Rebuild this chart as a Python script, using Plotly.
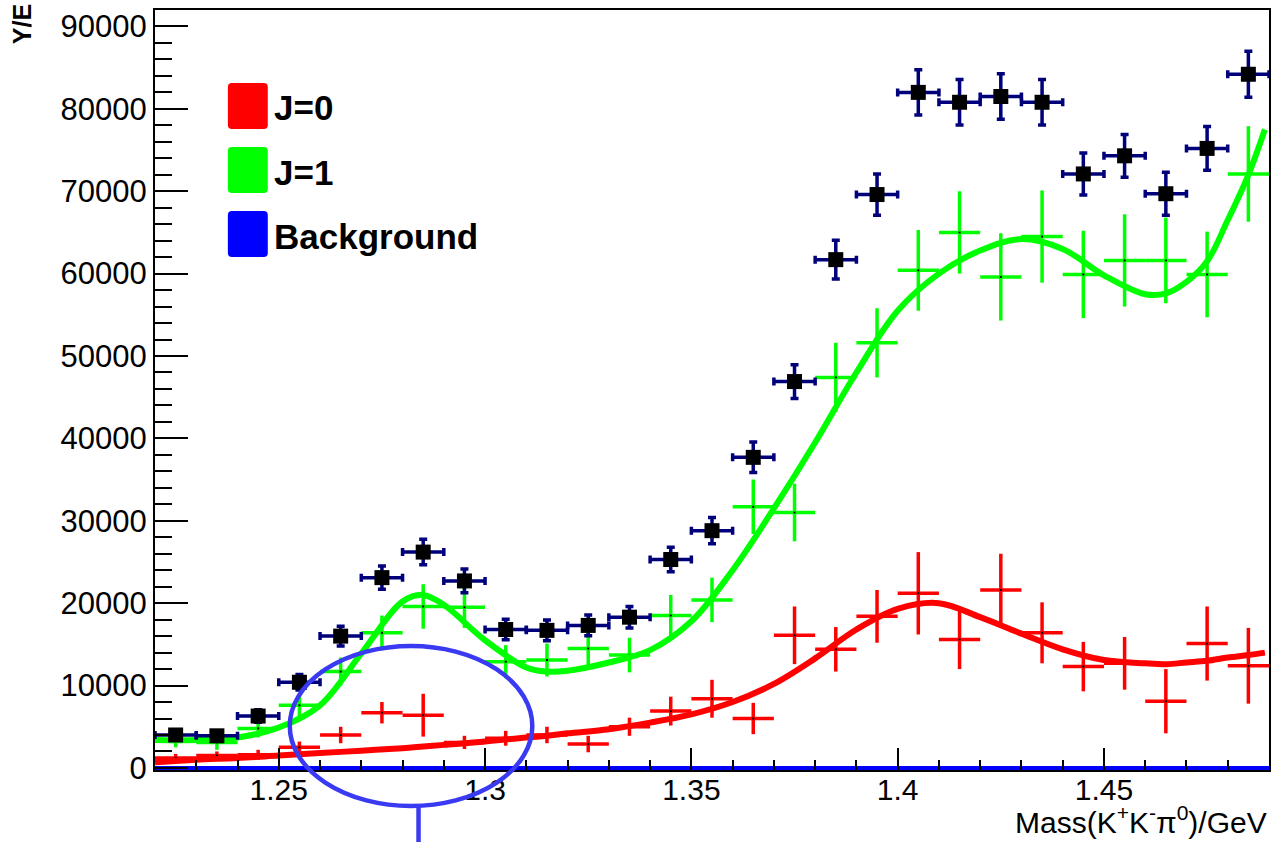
import plotly.graph_objects as go

# ---- data -------------------------------------------------------------
mass = [1.225, 1.235, 1.245, 1.255, 1.265, 1.275, 1.285, 1.295, 1.305,
        1.315, 1.325, 1.335, 1.345, 1.355, 1.365, 1.375, 1.385, 1.395,
        1.405, 1.415, 1.425, 1.435, 1.445, 1.455, 1.465, 1.475, 1.485]
bin_half = 0.005

total = [4000, 3900, 6300, 10400, 16000, 23100, 26200, 22700, 16800,
         16700, 17300, 18300, 25300, 28800, 37700, 46900, 61700, 69600,
         82000, 80800, 81500, 80800, 72100, 74300, 69700, 75200, 84200]
total_err = [600, 600, 750, 950, 1200, 1400, 1550, 1450, 1250,
             1250, 1250, 1300, 1500, 1600, 1850, 2050, 2350, 2500,
             2750, 2750, 2750, 2750, 2550, 2600, 2600, 2650, 2800]

j1 = [3400, 3100, 4800, 7600, 11700, 16400, 19600, 19500, 12900,
      13100, 14500, 13700, 18500, 20400, 31700, 31000, 47400, 51600,
      60400, 65000, 59600, 64500, 59900, 61600, 61600, 59900, 72100]
j1_err = [900, 900, 1100, 1400, 1700, 2100, 2700, 2500, 2000,
          2000, 2100, 2100, 2500, 2700, 3300, 3500, 4200, 4200,
          4900, 5000, 5300, 5600, 5300, 5600, 5200, 5200, 5800]

j0 = [1200, 1500, 1600, 2500, 4000, 6700, 6400, 3100, 3600,
      4000, 2900, 5000, 6900, 8400, 6000, 16100, 14400, 18400,
      21200, 15600, 21600, 16400, 12300, 12700, 8100, 15100, 12400]
j0_err = [500, 500, 600, 700, 1000, 1300, 2600, 800, 900,
          1000, 1000, 1100, 1750, 2300, 1900, 3500, 2700, 3200,
          5000, 3600, 4400, 3700, 3000, 3200, 3900, 4500, 4600]

# fitted intensity curves
fit_x = [1.22, 1.23, 1.24, 1.25, 1.26, 1.27, 1.28, 1.285, 1.29, 1.30,
         1.31, 1.315, 1.32, 1.33, 1.34, 1.35, 1.36, 1.37, 1.38, 1.39,
         1.40, 1.41, 1.42, 1.43, 1.44, 1.45, 1.46, 1.465, 1.47, 1.475,
         1.48, 1.485, 1.489]
fit_j1 = [3400, 3400, 3700, 4900, 7600, 13900, 20200, 21000, 19800, 15500,
          12200, 11700, 11800, 12800, 14300, 17800, 24000, 31500, 39500, 48000,
          55500, 60000, 62800, 64200, 63000, 59800, 57500, 57600, 59000, 61500,
          66500, 72000, 77500]
fit_j0 = [700, 1000, 1200, 1500, 1800, 2100, 2400, 2600, 2800, 3200,
          3700, 3900, 4200, 4700, 5500, 6500, 8000, 10200, 13300, 16800,
          19300, 20000, 18300, 16300, 14400, 13100, 12700, 12600, 12800, 13000,
          13400, 13700, 14000]

bkg_x = [1.22, 1.49]
bkg_y = [0, 0]

legend_labels = ["J=0", "J=1", "Background"]
legend_colors = ["#ff0000", "#00ff00", "#0000ff"]

x_range = [1.22, 1.49]
y_range = [-250, 92000]

# ---- figure -----------------------------------------------------------
W, H = 1275, 842
ML, MR, MT, MB = 155, 4, 10, 72
PW, PH = W - ML - MR, H - MT - MB


def px(xp):
    return (xp - ML) / PW


def py(yp):
    return (H - MB - yp) / PH


fig = go.Figure()

# J=0 points
fig.add_trace(go.Scatter(
    x=mass, y=j0, mode="markers",
    marker=dict(symbol="square", size=2, color="black"),
    error_x=dict(type="constant", value=bin_half, color="#ff0000", thickness=3.5, width=0),
    error_y=dict(type="data", array=j0_err, color="#ff0000", thickness=3.5, width=0),
    showlegend=False))

# J=1 points
fig.add_trace(go.Scatter(
    x=mass, y=j1, mode="markers",
    marker=dict(symbol="square", size=2, color="black"),
    error_x=dict(type="constant", value=bin_half, color="#00ff00", thickness=3.5, width=0),
    error_y=dict(type="data", array=j1_err, color="#00ff00", thickness=3.5, width=0),
    showlegend=False))

# fit curves
fig.add_trace(go.Scatter(x=fit_x, y=fit_j0, mode="lines",
                         line=dict(color="#ff0000", width=6, shape="spline"),
                         showlegend=False))
fig.add_trace(go.Scatter(x=fit_x, y=fit_j1, mode="lines",
                         line=dict(color="#00ff00", width=6, shape="spline"),
                         showlegend=False))

# background
fig.add_trace(go.Scatter(x=bkg_x, y=bkg_y, mode="lines",
                         line=dict(color="#0000ff", width=4),
                         showlegend=False))

# total data
fig.add_trace(go.Scatter(
    x=mass, y=total, mode="markers",
    marker=dict(symbol="square", size=15, color="black"),
    error_x=dict(type="constant", value=bin_half, color="#00007a", thickness=3.5, width=4),
    error_y=dict(type="data", array=total_err, color="#00007a", thickness=3.5, width=4),
    showlegend=False))

font = "Liberation Sans, Arial, Helvetica, sans-serif"
FS = 30

fig.update_layout(
    width=W, height=H,
    margin=dict(l=ML, r=MR, t=MT, b=MB),
    paper_bgcolor="white", plot_bgcolor="white",
    font=dict(family=font, size=FS, color="black"),
    showlegend=False,
    xaxis=dict(range=x_range, showgrid=False, zeroline=False,
               showline=True, linecolor="black", linewidth=2, mirror=True,
               ticks="inside", ticklen=22, tickwidth=2, tickcolor="black",
               tick0=1.25, dtick=0.05, tickformat="~g",
               ticklabelstandoff=-8,
               minor=dict(ticks="inside", ticklen=10, tickwidth=2,
                          tickcolor="black", dtick=0.01, tick0=1.22),
               tickfont=dict(family=font, size=FS)),
    yaxis=dict(range=y_range, showgrid=False, zeroline=False,
               showline=True, linecolor="black", linewidth=2, mirror=True,
               ticks="inside", ticklen=33, tickwidth=2, tickcolor="black",
               tick0=0, dtick=10000, tickformat="d",
               minor=dict(ticks="inside", ticklen=17, tickwidth=2,
                          tickcolor="black", dtick=2000, tick0=0),
               tickfont=dict(family=font, size=31)),
)

shapes = []
annotations = []

# legend boxes
box_tops = [83, 147, 211]
for label, color, top in zip(legend_labels, legend_colors, box_tops):
    x0, x1 = px(228), px(268)
    y0, y1 = py(top + 46), py(top)
    r = 4
    rx, ry = r / PW, r / PH
    path = (f"M {x0 + rx},{y0} L {x1 - rx},{y0} Q {x1},{y0} {x1},{y0 + ry} "
            f"L {x1},{y1 - ry} Q {x1},{y1} {x1 - rx},{y1} L {x0 + rx},{y1} "
            f"Q {x0},{y1} {x0},{y1 - ry} L {x0},{y0 + ry} Q {x0},{y0} {x0 + rx},{y0} Z")
    shapes.append(dict(type="path", xref="paper", yref="paper", path=path,
                       fillcolor=color, line=dict(width=0)))
    annotations.append(dict(xref="paper", yref="paper", x=px(272), y=py(top + 25),
                            text=f"<b>{label}</b>", showarrow=False,
                            xanchor="left", yanchor="middle",
                            font=dict(family=font, size=35, color="black")))

# highlighted region
shapes.append(dict(type="circle", xref="paper", yref="paper",
                   x0=px(290), x1=px(533), y0=py(806), y1=py(646),
                   line=dict(color="#3a3af2", width=4.5), layer="above"))
shapes.append(dict(type="line", xref="paper", yref="paper",
                   x0=px(419), x1=px(419), y0=py(806), y1=py(845),
                   line=dict(color="#3a3af2", width=4.5), layer="above"))

# axis titles
annotations.append(dict(xref="paper", yref="paper", x=1.0, y=py(841),
                        text="Mass(K<sup>+</sup>K<sup>-</sup>π<sup>0</sup>)/GeV",
                        showarrow=False, xanchor="right", yanchor="bottom",
                        font=dict(family=font, size=FS, color="black")))
annotations.append(dict(xref="paper", yref="paper", x=px(22), y=py(2),
                        text="<b>Y/E</b>", textangle=-90, showarrow=False,
                        xanchor="center", yanchor="top",
                        font=dict(family=font, size=25, color="black")))

fig.update_layout(shapes=shapes, annotations=annotations)

fig.write_html("out.html")
